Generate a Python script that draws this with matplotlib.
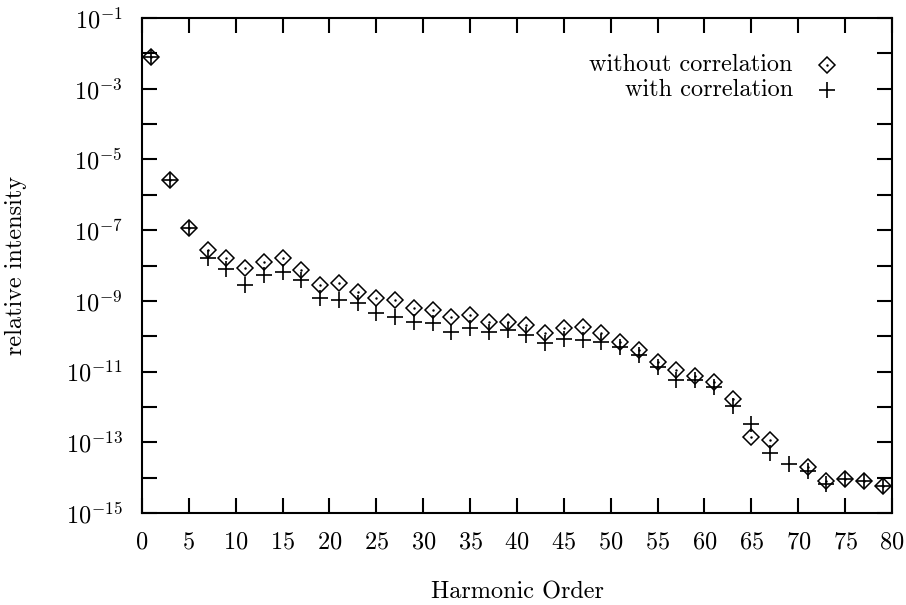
import numpy as np
import matplotlib
matplotlib.use("Agg")
import matplotlib.pyplot as plt
import matplotlib.ticker as tkr

plt.rcParams['font.family'] = ['cmr10', 'DejaVu Serif']
plt.rcParams['mathtext.fontset'] = 'cm'
plt.rcParams['axes.formatter.use_mathtext'] = True

# harmonic orders and intensities
order_wo = [1, 3, 5, 7, 9, 11, 13, 15, 17, 19, 21, 23, 25, 27, 29, 31, 33, 35, 37, 39,
            41, 43, 45, 47, 49, 51, 53, 55, 57, 59, 61, 63, 65, 67, 71, 73, 75, 77, 79]
without_corr = [8e-3, 2.6e-6, 1.15e-7, 2.75e-8, 1.6e-8, 8.5e-9, 1.26e-8, 1.6e-8, 7.4e-9, 2.8e-9,
                3.2e-9, 1.8e-9, 1.2e-9, 1.07e-9, 6.3e-10, 5.5e-10, 3.5e-10, 4e-10, 2.5e-10, 2.5e-10,
                2.1e-10, 1.2e-10, 1.7e-10, 1.8e-10, 1.2e-10, 6.9e-11, 4.1e-11, 1.9e-11, 1.1e-11, 7.6e-12,
                5.1e-12, 1.65e-12, 1.4e-13, 1.17e-13, 2e-14, 8.1e-15, 9.2e-15, 8.1e-15, 5.8e-15]

order_w = [1, 3, 5, 7, 9, 11, 13, 15, 17, 19, 21, 23, 25, 27, 29, 31, 33, 35, 37, 39,
           41, 43, 45, 47, 49, 51, 53, 55, 57, 59, 61, 63, 65, 67, 69, 71, 73, 75, 77, 79]
with_corr = [8e-3, 2.6e-6, 1.15e-7, 1.6e-8, 8e-9, 2.8e-9, 5.4e-9, 6.6e-9, 3.9e-9, 1.2e-9,
             1.07e-9, 8.7e-10, 4.6e-10, 3.5e-10, 2.5e-10, 2.3e-10, 1.3e-10, 1.7e-10, 1.3e-10, 1.5e-10,
             1.1e-10, 6.5e-11, 8.3e-11, 7.8e-11, 6.9e-11, 5e-11, 3e-11, 1.35e-11, 5.7e-12, 5.7e-12,
             3.6e-12, 1.07e-12, 3.3e-13, 5e-14, 2.5e-14, 1.55e-14, 6.6e-15, 9.2e-15, 8.1e-15, 5.8e-15]

labels = ["without correlation", "with correlation"]


def main():
    fig = plt.figure(figsize=(9.06, 6.05), dpi=100)
    ax = fig.add_axes([0.1567, 0.152, 0.8278, 0.8182])

    ax.plot(order_wo, without_corr, linestyle='none', marker='D', markersize=8.6,
            markerfacecolor='none', markeredgecolor='k', markeredgewidth=1.1)
    ax.plot(order_wo, without_corr, linestyle='none', marker='.', markersize=1.5, color='k')
    ax.plot(order_w, with_corr, linestyle='none', marker='+', markersize=11,
            markeredgecolor='k', markeredgewidth=1.2)

    ax.set_yscale('log')
    ax.set_xlim(0, 80)
    ax.set_ylim(1e-15, 1e-1)

    ax.xaxis.set_major_locator(tkr.MultipleLocator(5))
    yt = [10.0 ** e for e in range(-15, 0)]
    ax.set_yticks(yt)
    ax.set_yticklabels([r'$10^{%d}$' % e if e % 2 else '' for e in range(-15, 0)])
    ax.yaxis.set_minor_locator(tkr.NullLocator())

    ax.tick_params(axis='both', which='major', direction='in', length=11, width=1.5,
                   top=True, right=True, labelsize=17.5)
    ax.tick_params(axis='x', pad=13)
    ax.tick_params(axis='y', pad=14)
    for s in ax.spines.values():
        s.set_linewidth(1.5)

    ax.set_xlabel("Harmonic Order", fontsize=17.5)
    ax.set_ylabel("relative intensity", fontsize=17.5)
    ax.xaxis.set_label_coords(0.5, -0.138)
    ax.yaxis.set_label_coords(-0.153, 0.5)

    # key in the gnuplot way: text first, symbol on the right
    ax.text(0.868, 0.905, labels[0], transform=ax.transAxes, ha='right', va='center', fontsize=17.5)
    ax.text(0.868, 0.855, labels[1], transform=ax.transAxes, ha='right', va='center', fontsize=17.5)
    ax.plot([0.913], [0.905], transform=ax.transAxes, marker='D', markersize=8.6,
            markerfacecolor='none', markeredgecolor='k', markeredgewidth=1.1)
    ax.plot([0.913], [0.905], transform=ax.transAxes, marker='.', markersize=1.5, color='k')
    ax.plot([0.913], [0.855], transform=ax.transAxes, marker='+', markersize=11,
            markeredgecolor='k', markeredgewidth=1.2)

    plt.savefig("out.png", dpi=100)


if __name__ == "__main__":
    main()
